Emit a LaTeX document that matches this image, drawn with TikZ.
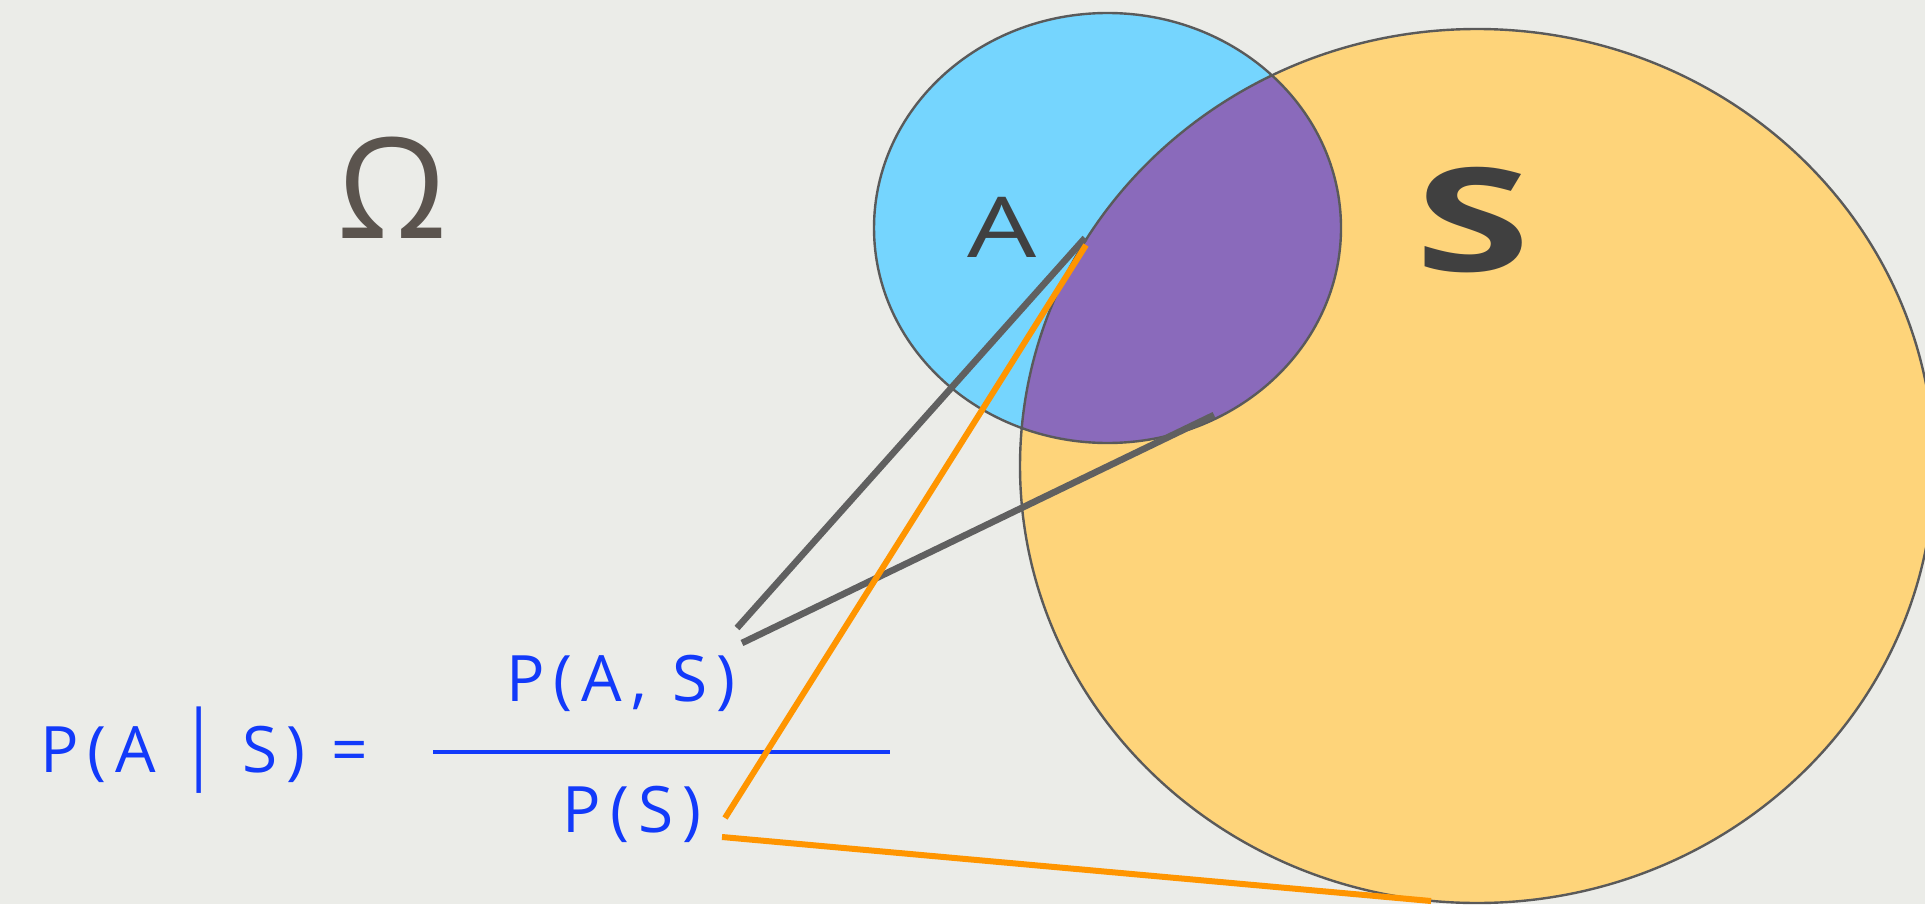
\documentclass[tikz,border=0pt]{standalone}
\usepackage{fontspec}
\setmainfont{Open Sans}
\definecolor{bg}{RGB}{235,236,232}
\definecolor{yel}{RGB}{254,212,122}
\definecolor{cya}{RGB}{117,213,254}
\definecolor{purp}{RGB}{138,106,187}
\definecolor{edge}{RGB}{90,90,90}
\definecolor{gline}{RGB}{96,96,96}
\definecolor{oline}{RGB}{255,149,0}
\definecolor{tblue}{RGB}{18,58,250}
\definecolor{omeg}{RGB}{91,84,78}
\definecolor{lett}{RGB}{64,64,64}
\tikzset{
  formula/.style={text=tblue, font=\fontsize{32}{34}\selectfont\addfontfeature{LetterSpace=14}, inner sep=0pt},
  grayconn/.style={draw=gline, line width=3.3pt},
  orangeconn/.style={draw=oline, line width=3pt},
  outline/.style={draw=edge, line width=1.2pt},
}
\begin{document}
\begin{tikzpicture}[x=0.5pt,y=-0.5pt]
\useasboundingbox (0,0) rectangle (1925,904);
\fill[bg] (0,0) rectangle (1925,904);
% sets
\fill[yel] (1477,466) ellipse [x radius=457, y radius=437];
\fill[cya] (1107.5,228) ellipse [x radius=233.5, y radius=215];
\begin{scope}
  \clip (1477,466) ellipse [x radius=457, y radius=437];
  \fill[purp] (1107.5,228) ellipse [x radius=233.5, y radius=215];
\end{scope}
\draw[outline] (1477,466) ellipse [x radius=457, y radius=437];
\draw[outline] (1107.5,228) ellipse [x radius=233.5, y radius=215];
% labels
\node[text=omeg, font=\fontsize{70}{72}\selectfont, inner sep=0pt] (omega) at (392,188) {Ω};
\node[text=lett, font=\fontsize{42}{44}\selectfont, inner sep=0pt] (alab) at (1002,227) {\scalebox{1.3}[1]{A}};
\node[text=lett, font=\bfseries\fontsize{72}{74}\selectfont, inner sep=0pt] (slab) at (1473,220) {\scalebox{1.45}[1]{S}};
% formula
\node[formula] (lhs) at (204,750) {P(A \scalebox{1}[1.35]{|} S) =};
\node[formula] (num) at (621,683) {P(A, S)};
\node[formula] (den) at (632,814) {P(S)};
\coordinate (fl) at (433,752);
\coordinate (fr) at (890,752);
\draw[tblue, line width=1.8pt] (fl) -- (fr);
% connectors
\coordinate (g1s) at (737,628);
\coordinate (g1e) at (1085,238);
\coordinate (g2s) at (742,643);
\coordinate (g2e) at (1214,415);
\coordinate (o1s) at (725,818);
\coordinate (o1e) at (1086,245);
\coordinate (o2s) at (722,837);
\coordinate (o2e) at (1431,901);
\draw[grayconn] (g1s) -- (g1e);
\draw[grayconn] (g2s) -- (g2e);
\draw[orangeconn] (o1s) -- (o1e);
\draw[orangeconn] (o2s) -- (o2e);
\end{tikzpicture}
\end{document}
